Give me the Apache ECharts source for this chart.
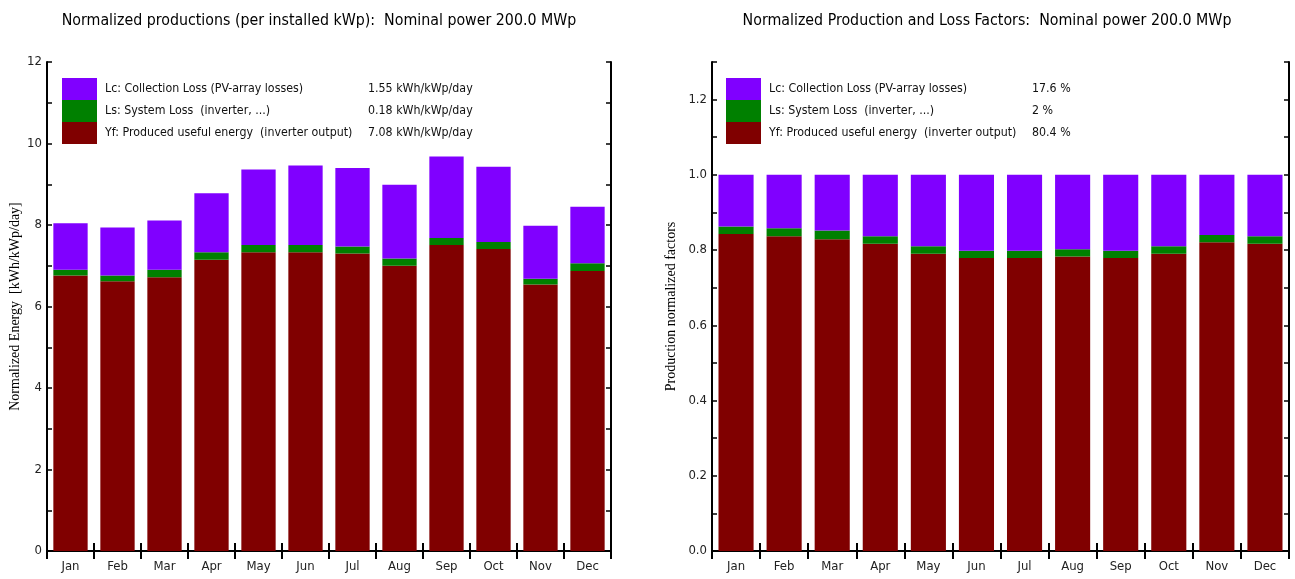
<!DOCTYPE html>
<html>
<head>
<meta charset="utf-8">
<script src="https://cdn.jsdelivr.net/npm/echarts@6/dist/echarts.min.js"></script>
<style>
html,body{margin:0;padding:0;background:#fff;}
#c{width:1295px;height:579px;}
</style>
</head>
<body>
<div id="c"></div>
<script>
// ---- data ----
const months = ['Jan','Feb','Mar','Apr','May','Jun','Jul','Aug','Sep','Oct','Nov','Dec'];
const seriesNames = ['Lc: Collection Loss (PV-array losses)','Ls: System Loss  (inverter, ...)','Yf: Produced useful energy  (inverter output)'];
const legendValuesDaily = ['1.55 kWh/kWp/day','0.18 kWh/kWp/day','7.08 kWh/kWp/day'];
const legendValuesPct = ['17.6 %','2 %','80.4 %'];
// left chart: kWh/kWp/day
const yfDaily = [6.76, 6.62, 6.72, 7.15, 7.33, 7.33, 7.30, 7.00, 7.51, 7.41, 6.54, 6.87];
const lsDaily = [0.14, 0.14, 0.18, 0.18, 0.18, 0.18, 0.17, 0.18, 0.17, 0.17, 0.14, 0.19];
const lcDaily = [1.14, 1.18, 1.21, 1.45, 1.85, 1.95, 1.93, 1.81, 2.00, 1.85, 1.30, 1.39];
// right chart: normalized factors
const yfRatio = [0.843, 0.837, 0.829, 0.817, 0.790, 0.779, 0.779, 0.783, 0.779, 0.790, 0.821, 0.817];
const lsRatio = [0.020, 0.021, 0.023, 0.020, 0.020, 0.019, 0.019, 0.019, 0.019, 0.020, 0.019, 0.020];
const lcRatio = [0.137, 0.142, 0.148, 0.163, 0.190, 0.202, 0.202, 0.198, 0.202, 0.190, 0.160, 0.163];
const leftTicks = {min: 0, max: 12, interval: 1};
const rightTicks = {min: 0, max: 1.3, interval: 0.1};

// ---- styles ----
const NARROW = "'Liberation Sans Narrow', 'DejaVu Sans Condensed', 'Arial Narrow', sans-serif";
const SERIF = "'Liberation Serif', 'DejaVu Serif', serif";
const colors = {lc: '#8000FF', ls: '#008000', yf: '#800000'};
const axisLineStyle = {show: true, lineStyle: {color: '#000', width: 2}};
const LFS = 12.3;

function xAxes(gridIndex) {
  return [
    {type: 'category', gridIndex, data: months, position: 'bottom',
     axisLine: axisLineStyle,
     axisTick: {show: true, inside: true, length: 8, lineStyle: {color: '#000', width: 2}},
     axisLabel: {color: '#222', fontFamily: NARROW, fontSize: 13, margin: 9},
     splitLine: {show: false}},
    {type: 'category', gridIndex, data: months, position: 'top',
     axisLine: axisLineStyle,
     axisTick: {show: true, inside: true, length: 8, lineStyle: {color: '#000', width: 2}},
     axisLabel: {show: false}, splitLine: {show: false}}
  ];
}
function yAxes(gridIndex, t, fmt, name, nameGap) {
  return [
    {type: 'value', gridIndex, position: 'left', min: t.min, max: t.max, interval: t.interval,
     name, nameLocation: 'middle', nameGap, nameRotate: 90,
     nameTextStyle: {fontFamily: SERIF, fontSize: 14, color: '#000'},
     axisLine: axisLineStyle,
     axisTick: {show: true, inside: true, length: 5, lineStyle: {color: '#000', width: 1.5}},
     axisLabel: {color: '#222', fontFamily: NARROW, fontSize: 13, margin: 5, formatter: fmt},
     splitLine: {show: false}},
    {type: 'value', gridIndex, position: 'right', min: t.min, max: t.max, interval: t.interval,
     axisLine: axisLineStyle,
     axisTick: {show: true, inside: true, length: 5, lineStyle: {color: '#000', width: 1.5}},
     axisLabel: {show: false}, splitLine: {show: false}}
  ];
}
function legend(left, values) {
  return {
    left, top: 78, orient: 'vertical', itemWidth: 35, itemHeight: 22, itemGap: 0, padding: 0,
    icon: 'rect', selectedMode: false, data: seriesNames,
    formatter: function (name) {
      const i = seriesNames.indexOf(name);
      return '{s|}{a|' + name + '}{b|' + values[i] + '}';
    },
    textStyle: {
      color: '#111', fontFamily: NARROW, fontSize: LFS, lineHeight: 22,
      rich: {
        s: {width: 3, fontFamily: NARROW, fontSize: LFS},
        a: {width: 263, fontFamily: NARROW, fontSize: LFS, color: '#111'},
        b: {fontFamily: NARROW, fontSize: LFS, color: '#111'}
      }
    }
  };
}
function bars(xIdx, yIdx, yf, ls, lc, stack) {
  const base = {type: 'bar', stack, xAxisIndex: xIdx, yAxisIndex: yIdx, barCategoryGap: '27%', animation: false};
  return [
    Object.assign({}, base, {name: seriesNames[2], data: yf, itemStyle: {color: colors.yf}}),
    Object.assign({}, base, {name: seriesNames[1], data: ls, itemStyle: {color: colors.ls}}),
    Object.assign({}, base, {name: seriesNames[0], data: lc, itemStyle: {color: colors.lc}})
  ];
}

const chart = echarts.init(document.getElementById('c'), null, {renderer: 'canvas'});
chart.setOption({
  backgroundColor: '#fff',
  animation: false,
  title: [
    {text: 'Normalized productions (per installed kWp):  Nominal power 200.0 MWp', left: 314, top: 8, textAlign: 'center',
     textStyle: {fontFamily: NARROW, fontSize: 15.8, fontWeight: 'normal', color: '#000'}},
    {text: 'Normalized Production and Loss Factors:  Nominal power 200.0 MWp', left: 982, top: 8, textAlign: 'center',
     textStyle: {fontFamily: NARROW, fontSize: 15.8, fontWeight: 'normal', color: '#000'}}
  ],
  legend: [legend(62, legendValuesDaily), legend(726, legendValuesPct)],
  grid: [
    {left: 47, top: 62, width: 564, height: 489, containLabel: false},
    {left: 712, top: 62, width: 577, height: 489, containLabel: false}
  ],
  xAxis: xAxes(0).concat(xAxes(1)),
  yAxis: yAxes(0, leftTicks, function (v) { return Math.round(v) % 2 === 0 ? String(Math.round(v)) : ''; },
               'Normalized Energy  [kWh/kWp/day]', 25)
    .concat(yAxes(1, rightTicks, function (v) { return Math.round(v * 10) % 2 === 0 ? v.toFixed(1) : ''; },
               'Production normalized factors', 34)),
  series: bars(0, 0, yfDaily, lsDaily, lcDaily, 'daily').concat(bars(2, 2, yfRatio, lsRatio, lcRatio, 'ratio'))
});
</script>
</body>
</html>
